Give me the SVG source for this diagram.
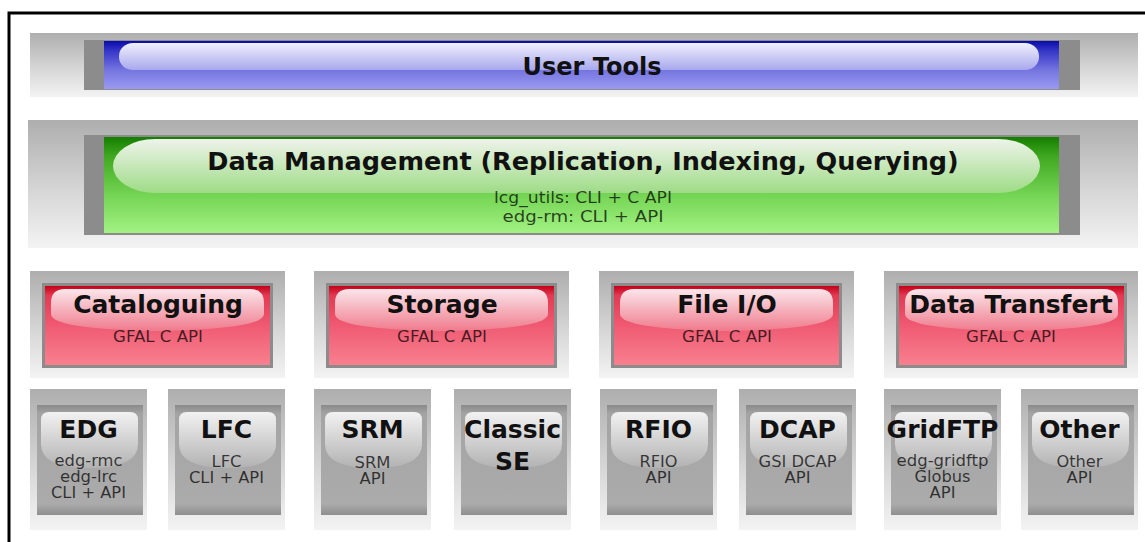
<svg xmlns="http://www.w3.org/2000/svg" width="1145" height="542" viewBox="0 0 1145 542">
<defs>
  <linearGradient id="gOuter" x1="0" y1="0" x2="0" y2="1">
    <stop offset="0" stop-color="#aeaeae"/>
    <stop offset="0.55" stop-color="#d6d6d6"/>
    <stop offset="1" stop-color="#f3f3f3"/>
  </linearGradient>
  <linearGradient id="gBlue" x1="0" y1="0" x2="0" y2="1">
    <stop offset="0" stop-color="#0a0aa8"/>
    <stop offset="0.2" stop-color="#3535c8"/>
    <stop offset="0.6" stop-color="#7474e0"/>
    <stop offset="1" stop-color="#9a9af2"/>
  </linearGradient>
  <linearGradient id="gBlueHi" x1="0" y1="0" x2="0" y2="1">
    <stop offset="0" stop-color="#f0f0fc"/>
    <stop offset="1" stop-color="#a8a8ee"/>
  </linearGradient>
  <linearGradient id="gGreen" x1="0" y1="0" x2="0" y2="1">
    <stop offset="0" stop-color="#167e00"/>
    <stop offset="0.2" stop-color="#3fa820"/>
    <stop offset="0.6" stop-color="#74d454"/>
    <stop offset="1" stop-color="#a2f282"/>
  </linearGradient>
  <linearGradient id="gGreenHi" x1="0" y1="0" x2="0" y2="1">
    <stop offset="0" stop-color="#eef3ea"/>
    <stop offset="1" stop-color="#9edc86"/>
  </linearGradient>
  <linearGradient id="gRed" x1="0" y1="0" x2="0" y2="1">
    <stop offset="0" stop-color="#c40018"/>
    <stop offset="0.12" stop-color="#e23a52"/>
    <stop offset="0.5" stop-color="#ef5a72"/>
    <stop offset="1" stop-color="#f8808f"/>
  </linearGradient>
  <linearGradient id="gRedHi" x1="0" y1="0" x2="0" y2="1">
    <stop offset="0" stop-color="#fbe6ea"/>
    <stop offset="1" stop-color="#f07a8c"/>
  </linearGradient>
  <linearGradient id="gInner" x1="0" y1="0" x2="0" y2="1">
    <stop offset="0" stop-color="#8a8a8a"/>
    <stop offset="0.08" stop-color="#a4a4a4"/>
    <stop offset="0.9" stop-color="#ababab"/>
    <stop offset="1" stop-color="#8e8e8e"/>
  </linearGradient>
  <linearGradient id="gGrayHi" x1="0" y1="0" x2="0" y2="1">
    <stop offset="0" stop-color="#f2f2f2"/>
    <stop offset="1" stop-color="#b2b2b2"/>
  </linearGradient>
  <path id="hiRed" d="M 21,303 Q 21,289 35,289 H 220 Q 234,289 234,303 V 314 Q 234,329 127.5,331 Q 21,329 21,314 Z"/>
  <path id="hiGray" d="M 11,420 Q 11,412 19,412 H 100 Q 108,412 108,420 V 444 Q 108,468 59.5,468 Q 11,468 11,444 Z"/>
</defs>
<style>
  .outer { fill: url(#gOuter); }
  .frame { fill: #8c8c8c; }
  .red { fill: url(#gRed); }
  .inner { fill: url(#gInner); }
  .title { font-family: "DejaVu Sans", "Liberation Sans", sans-serif; font-weight: bold; fill: #111; text-anchor: middle; }
  .t1 { font-size: 24px; }
  .t2 { font-size: 25px; }
  .t3 { font-size: 25.5px; }
  .sub { font-family: "DejaVu Sans", "Liberation Sans", sans-serif; font-size: 15px; text-anchor: middle; fill: #000; fill-opacity: 0.72; }
</style>
<rect x="0" y="0" width="1145" height="542" fill="#ffffff"/>
<path d="M 9,542 V 13 H 1145" fill="none" stroke="#000" stroke-width="3"/>

<g id="user-tools">
  <rect class="outer" x="30" y="33" width="1108" height="64"/>
  <rect class="frame" x="84" y="40" width="996" height="50"/>
  <rect x="104" y="41" width="955" height="48" fill="url(#gBlue)"/>
  <rect x="119" y="43" width="920" height="27" rx="14" ry="13" fill="url(#gBlueHi)"/>
  <text class="title t1" x="592" y="75">User Tools</text>
</g>

<g id="data-management">
  <rect class="outer" x="28" y="120" width="1110" height="128"/>
  <rect class="frame" x="84" y="135" width="996" height="100"/>
  <rect x="104" y="137" width="955" height="96" fill="url(#gGreen)"/>
  <rect x="113" y="139" width="927" height="54" rx="42" ry="27" fill="url(#gGreenHi)"/>
  <text class="title t3" x="583" y="170">Data Management (Replication, Indexing, Querying)</text>
  <text class="sub" x="583" y="203" textLength="178" lengthAdjust="spacingAndGlyphs">lcg_utils: CLI + C API</text>
  <text class="sub" x="583" y="222" textLength="161" lengthAdjust="spacingAndGlyphs">edg-rm: CLI + API</text>
</g>

<g id="cataloguing" transform="translate(30,0)">
  <rect class="outer" x="0" y="271" width="255" height="107"/>
  <rect class="frame" x="12" y="283" width="231" height="85"/>
  <rect class="red" x="15" y="286" width="225" height="79"/>
  <use href="#hiRed" fill="url(#gRedHi)"/>
  <text class="title t2" x="128" y="313">Cataloguing</text>
  <text class="sub" x="128" y="342" textLength="90" lengthAdjust="spacingAndGlyphs">GFAL C API</text>
</g>

<g id="storage" transform="translate(314,0)">
  <rect class="outer" x="0" y="271" width="255" height="107"/>
  <rect class="frame" x="12" y="283" width="231" height="85"/>
  <rect class="red" x="15" y="286" width="225" height="79"/>
  <use href="#hiRed" fill="url(#gRedHi)"/>
  <text class="title t2" x="128" y="313">Storage</text>
  <text class="sub" x="128" y="342" textLength="90" lengthAdjust="spacingAndGlyphs">GFAL C API</text>
</g>

<g id="file-io" transform="translate(599,0)">
  <rect class="outer" x="0" y="271" width="255" height="107"/>
  <rect class="frame" x="12" y="283" width="231" height="85"/>
  <rect class="red" x="15" y="286" width="225" height="79"/>
  <use href="#hiRed" fill="url(#gRedHi)"/>
  <text class="title t2" x="128" y="313">File I/O</text>
  <text class="sub" x="128" y="342" textLength="90" lengthAdjust="spacingAndGlyphs">GFAL C API</text>
</g>

<g id="data-transfert" transform="translate(884,0)">
  <rect class="outer" x="0" y="271" width="254" height="107"/>
  <rect class="frame" x="12" y="283" width="231" height="85"/>
  <rect class="red" x="15" y="286" width="225" height="79"/>
  <use href="#hiRed" fill="url(#gRedHi)"/>
  <text class="title t2" x="127" y="313">Data Transfert</text>
  <text class="sub" x="127" y="342" textLength="90" lengthAdjust="spacingAndGlyphs">GFAL C API</text>
</g>

<g id="edg" transform="translate(30,0)">
  <rect class="outer" x="0" y="389" width="117" height="141"/>
  <rect class="inner" x="7" y="405" width="106" height="110"/>
  <use href="#hiGray" fill="url(#gGrayHi)"/>
  <text class="title t2" x="58.5" y="438">EDG</text>
  <text class="sub" x="58.5" y="466" textLength="68" lengthAdjust="spacingAndGlyphs">edg-rmc</text>
  <text class="sub" x="58.5" y="482" textLength="57" lengthAdjust="spacingAndGlyphs">edg-lrc</text>
  <text class="sub" x="58.5" y="498" textLength="75" lengthAdjust="spacingAndGlyphs">CLI + API</text>
</g>

<g id="lfc" transform="translate(168,0)">
  <rect class="outer" x="0" y="389" width="117" height="141"/>
  <rect class="inner" x="7" y="405" width="106" height="110"/>
  <use href="#hiGray" fill="url(#gGrayHi)"/>
  <text class="title t2" x="58.5" y="438">LFC</text>
  <text class="sub" x="58.5" y="467" textLength="30" lengthAdjust="spacingAndGlyphs">LFC</text>
  <text class="sub" x="58.5" y="483" textLength="75" lengthAdjust="spacingAndGlyphs">CLI + API</text>
</g>

<g id="srm" transform="translate(314,0)">
  <rect class="outer" x="0" y="389" width="117" height="141"/>
  <rect class="inner" x="7" y="405" width="106" height="110"/>
  <use href="#hiGray" fill="url(#gGrayHi)"/>
  <text class="title t2" x="58.5" y="438">SRM</text>
  <text class="sub" x="58.5" y="468" textLength="36" lengthAdjust="spacingAndGlyphs">SRM</text>
  <text class="sub" x="58.5" y="484" textLength="26" lengthAdjust="spacingAndGlyphs">API</text>
</g>

<g id="classic-se" transform="translate(454,0)">
  <rect class="outer" x="0" y="389" width="117" height="141"/>
  <rect class="inner" x="7" y="405" width="106" height="110"/>
  <use href="#hiGray" fill="url(#gGrayHi)"/>
  <text class="title t2" x="58.5" y="438">Classic</text>
  <text class="title t2" x="58.5" y="470">SE</text>
</g>

<g id="rfio" transform="translate(600,0)">
  <rect class="outer" x="0" y="389" width="117" height="141"/>
  <rect class="inner" x="7" y="405" width="106" height="110"/>
  <use href="#hiGray" fill="url(#gGrayHi)"/>
  <text class="title t2" x="58.5" y="438">RFIO</text>
  <text class="sub" x="58.5" y="467" textLength="38" lengthAdjust="spacingAndGlyphs">RFIO</text>
  <text class="sub" x="58.5" y="483" textLength="26" lengthAdjust="spacingAndGlyphs">API</text>
</g>

<g id="dcap" transform="translate(739,0)">
  <rect class="outer" x="0" y="389" width="117" height="141"/>
  <rect class="inner" x="7" y="405" width="106" height="110"/>
  <use href="#hiGray" fill="url(#gGrayHi)"/>
  <text class="title t2" x="58.5" y="438">DCAP</text>
  <text class="sub" x="58.5" y="467" textLength="78" lengthAdjust="spacingAndGlyphs">GSI DCAP</text>
  <text class="sub" x="58.5" y="483" textLength="26" lengthAdjust="spacingAndGlyphs">API</text>
</g>

<g id="gridftp" transform="translate(884,0)">
  <rect class="outer" x="0" y="389" width="117" height="141"/>
  <rect class="inner" x="7" y="405" width="106" height="110"/>
  <use href="#hiGray" fill="url(#gGrayHi)"/>
  <text class="title t2" x="58.5" y="438">GridFTP</text>
  <text class="sub" x="58.5" y="466" textLength="92" lengthAdjust="spacingAndGlyphs">edg-gridftp</text>
  <text class="sub" x="58.5" y="482" textLength="56" lengthAdjust="spacingAndGlyphs">Globus</text>
  <text class="sub" x="58.5" y="498" textLength="26" lengthAdjust="spacingAndGlyphs">API</text>
</g>

<g id="other" transform="translate(1021,0)">
  <rect class="outer" x="0" y="389" width="117" height="141"/>
  <rect class="inner" x="7" y="405" width="106" height="110"/>
  <use href="#hiGray" fill="url(#gGrayHi)"/>
  <text class="title t2" x="58.5" y="438">Other</text>
  <text class="sub" x="58.5" y="467" textLength="46" lengthAdjust="spacingAndGlyphs">Other</text>
  <text class="sub" x="58.5" y="483" textLength="26" lengthAdjust="spacingAndGlyphs">API</text>
</g>

<g id="connectors"></g>
</svg>
